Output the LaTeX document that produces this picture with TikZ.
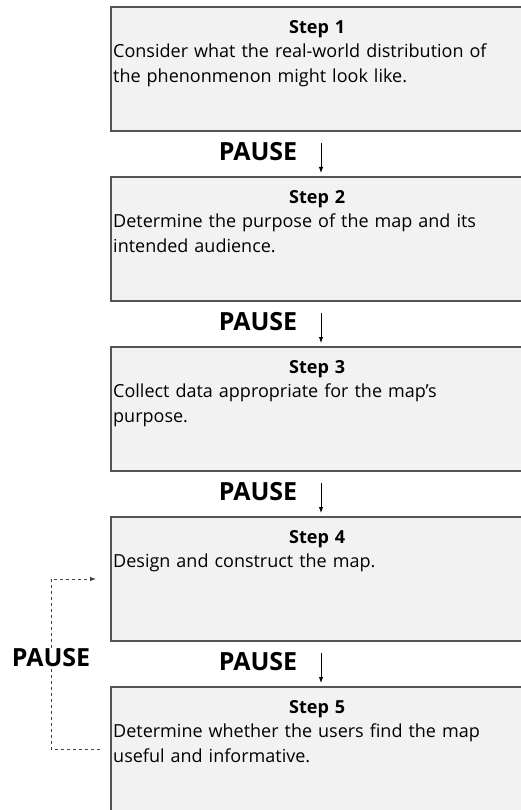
\documentclass[tikz,border=0pt]{standalone}
\usepackage{fontspec}
\setmainfont{Open Sans}
\usetikzlibrary{positioning,arrows.meta}
\newcommand{\stepfont}{\fontsize{18}{24.5}\selectfont\hyphenpenalty=10000 }

\begin{document}
\begin{tikzpicture}[
  x=1pt,y=1pt,
  node distance=46pt,
  stepbox/.style={draw=black!67,fill=gray!10,line width=1.6pt,minimum width=412pt,minimum height=124pt,inner sep=0pt,outer sep=0pt},
  steptext/.style={anchor=north west,text width=408pt,align=left,inner sep=0pt,font=\stepfont},
  pausetxt/.style={font=\fontsize{25}{28}\selectfont\bfseries,inner sep=1pt},
  pausearrow/.style={->,line width=0.9pt},
  backloop/.style={->,dash pattern=on 3pt off 3pt,line width=0.9pt,draw=black!75},
  >={Latex[length=6pt,width=4.5pt]}]
\useasboundingbox (0,0) rectangle (520,-810);
% the five steps
\node[stepbox,anchor=north west] (s1) at (111,-7) {};
\node[stepbox,below=of s1] (s2) {};
\node[stepbox,below=of s2] (s3) {};
\node[stepbox,below=of s3] (s4) {};
\node[stepbox,below=of s4] (s5) {};
\node[steptext] (t1) at ([xshift=2pt,yshift=-13pt]s1.north west) {{\centering\bfseries Step 1\par}Consider what the real-world distribution of\\the phenonmenon might look like.};
\node[steptext] (t2) at ([xshift=2pt,yshift=-13pt]s2.north west) {{\centering\bfseries Step 2\par}Determine the purpose of the map and its\\intended audience.};
\node[steptext] (t3) at ([xshift=2pt,yshift=-13pt]s3.north west) {{\centering\bfseries Step 3\par}Collect data appropriate for the map's\\purpose.};
\node[steptext] (t4) at ([xshift=2pt,yshift=-13pt]s4.north west) {{\centering\bfseries Step 4\par}Design and construct the map.};
\node[steptext] (t5) at ([xshift=2pt,yshift=-13pt]s5.north west) {{\centering\bfseries Step 5\par}Determine whether the users find the map\\useful and informative.};
% pauses between steps
\node[pausetxt] (p1) at ([xshift=-59pt,yshift=-21pt]s1.south) {PAUSE};
\node[pausetxt] (p2) at ([xshift=-59pt,yshift=-21pt]s2.south) {PAUSE};
\node[pausetxt] (p3) at ([xshift=-59pt,yshift=-21pt]s3.south) {PAUSE};
\node[pausetxt] (p4) at ([xshift=-59pt,yshift=-21pt]s4.south) {PAUSE};
\draw[pausearrow] ([xshift=4pt,yshift=-12pt]s1.south) -- ([xshift=4pt,yshift=4pt]s2.north);
\draw[pausearrow] ([xshift=4pt,yshift=-12pt]s2.south) -- ([xshift=4pt,yshift=4pt]s3.north);
\draw[pausearrow] ([xshift=4pt,yshift=-12pt]s3.south) -- ([xshift=4pt,yshift=4pt]s4.north);
\draw[pausearrow] ([xshift=4pt,yshift=-12pt]s4.south) -- ([xshift=4pt,yshift=4pt]s5.north);
% going back from step 5 to step 4
\draw[backloop] ([xshift=-11pt]s5.west) -- ++(-49,0) |- node[pausetxt,pos=0.25,yshift=6pt,fill=white] (pb) {PAUSE} ([xshift=-15pt]s4.west);
\end{tikzpicture}
\end{document}
